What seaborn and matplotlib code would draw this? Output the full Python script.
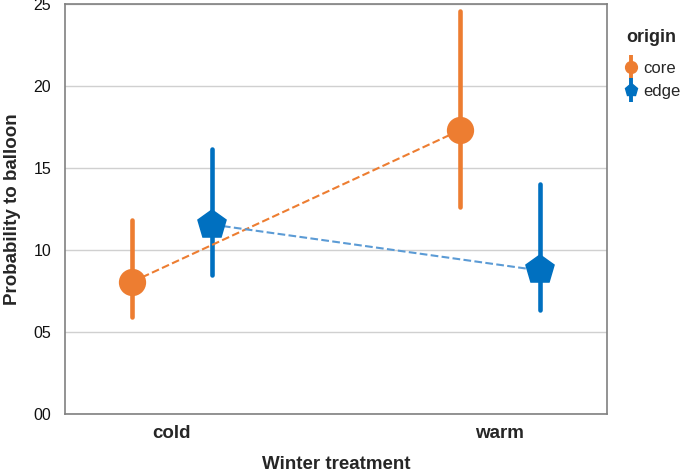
import numpy as np
import pandas as pd
import matplotlib
matplotlib.use("Agg")
import matplotlib.pyplot as plt
from matplotlib.lines import Line2D
from matplotlib.legend_handler import HandlerTuple
import seaborn as sns

# ---- data ----
treatments = ["cold", "warm"]
origins = ["core", "edge"]
core_mean = [8.05, 17.3]
core_low = [5.9, 12.6]
core_high = [11.8, 24.6]
edge_mean = [11.55, 8.75]
edge_low = [8.5, 6.35]
edge_high = [16.15, 14.0]
ytick_labels = ["00", "05", "10", "15", "20", "25"]

rows = []
for org, lo, me, hi in [("core", core_low, core_mean, core_high),
                        ("edge", edge_low, edge_mean, edge_high)]:
    for t, a, b, c in zip(treatments, lo, me, hi):
        for v in (a, b, c):
            rows.append({"Winter treatment": t, "origin": org, "value": v})
df = pd.DataFrame(rows)

sns.set_theme(style="white")
plt.rcParams["font.family"] = ["Liberation Sans", "DejaVu Sans"]

colors = {"core": "#ED7D31", "edge": "#0070C0"}
line_colors = {"core": "#ED7D31", "edge": "#5B9BD5"}

fig = plt.figure(figsize=(6.85, 4.74), dpi=100)
ax = fig.add_axes([0.0949, 0.1266, 0.886 - 0.0949, 0.9916 - 0.1266])

sns.pointplot(data=df, x="Winter treatment", y="value", hue="origin",
              order=treatments, hue_order=origins, palette=colors,
              estimator="median", errorbar=lambda v: (v.min(), v.max()),
              markers=["o", "p"], linestyles="--", dodge=0.244,
              markersize=13, linewidth=1.5,
              err_kws={"linewidth": 3.3}, ax=ax, legend=False)

for line in ax.lines:
    if line.get_marker() in ("o", "p"):
        c = line.get_color()
        key = "core" if matplotlib.colors.to_hex(c).lower() == colors["core"].lower() else "edge"
        line.set_markerfacecolor(colors[key])
        line.set_markeredgecolor(colors[key])
        line.set_color(line_colors[key])
        line.set_zorder(4)
        line.set_markersize(18.5 if key == "core" else 21)

ax.set_ylim(0, 25)
ax.set_xlim(-0.326, 1.326)
ax.set_yticks([0, 5, 10, 15, 20, 25])
ax.set_yticklabels(ytick_labels, fontsize=11.5)
ax.yaxis.grid(True, color="#d0d0d0", linewidth=1)
ax.set_axisbelow(True)
ax.tick_params(axis="y", length=7, color="#a0a0a0", width=1, pad=3, labelcolor="#111111")
ax.tick_params(axis="x", length=0, pad=8)
for lab in ax.get_xticklabels():
    lab.set_fontweight("bold")
    lab.set_fontsize(13.5)
for s in ax.spines.values():
    s.set_visible(True)
    s.set_color("#808080")
    s.set_linewidth(1.2)

ax.set_xlabel("Winter treatment", fontsize=13.5, fontweight="bold", labelpad=10)
ax.set_ylabel("Probability to balloon", fontsize=13.5, fontweight="bold", labelpad=9)

handles = []
for org, mk, ms in [("core", "o", 8.5), ("edge", "p", 9.5)]:
    bar = Line2D([], [], marker="|", markersize=17, markeredgewidth=2.8,
                 color=colors[org], linestyle="none")
    dot = Line2D([], [], marker=mk, markersize=ms, color=colors[org], linestyle="none")
    handles.append((bar, dot))
leg = ax.legend(handles, origins, title="origin", loc="upper left",
                bbox_to_anchor=(1.035, 0.94), frameon=False, fontsize=12,
                handler_map={tuple: HandlerTuple(ndivide=1)},
                handlelength=0.6, handletextpad=0.45, labelspacing=0.5,
                borderpad=0, borderaxespad=0)
leg.get_title().set_fontweight("bold")
leg.get_title().set_fontsize(13)
leg._legend_box.align = "left"
leg._legend_box.sep = 11

fig.savefig("out.png", dpi=100)
